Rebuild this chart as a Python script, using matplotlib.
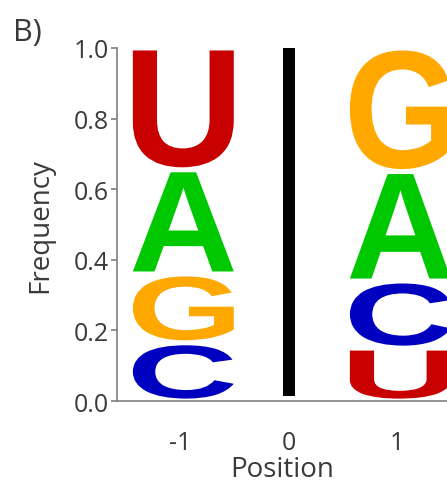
import matplotlib
matplotlib.use('Agg')
from matplotlib import pyplot as plt
from matplotlib.textpath import TextPath
from matplotlib.patches import PathPatch
from matplotlib.font_manager import FontProperties
from matplotlib.transforms import Affine2D

# our data
# ====
positions = [-1, 1]
# letters listed bottom to top for each position
letters = [['C', 'G', 'A', 'U'],
           ['U', 'C', 'A', 'G']]
freqs = [[0.165, 0.195, 0.295, 0.345],
         [0.150, 0.190, 0.310, 0.350]]
colors = {'A': '#00c800', 'C': '#0000c0', 'G': '#ffa800', 'U': '#c80000'}

xticks = [-1, 0, 1]
yticks = [0.0, 0.2, 0.4, 0.6, 0.8, 1.0]

plt.rcParams['font.family'] = ['Open Sans', 'DejaVu Sans']
glyph_font = FontProperties(family='Liberation Sans', weight='bold')
text_color = '#3a3a3a'
fs = 18


def draw_letter(ax, ch, x, y, w, h, color):
    tp = TextPath((0, 0), ch, size=1, prop=glyph_font)
    bb = tp.get_extents()
    tr = Affine2D().translate(-bb.x0, -bb.y0) \
        .scale(w / bb.width, h / bb.height) \
        .translate(x - w / 2, y)
    ax.add_patch(PathPatch(tr.transform_path(tp), facecolor=color,
                           edgecolor='none', transform=ax.transData))


fig = plt.figure(figsize=(4.47, 4.85), dpi=100)
ax = fig.add_axes([0.262, 0.171, 0.738, 0.728])

pad = 0.007
for pos, lets, fr in zip(positions, letters, freqs):
    bottom = 0.0
    for ch, f in zip(lets, fr):
        draw_letter(ax, ch, pos + 0.03, bottom + pad, 0.93, f - 2 * pad, colors[ch])
        bottom += f

# black marker at position 0
ax.bar(0, 0.985, bottom=0.015, width=0.11, color='black')

ax.set_xlim(-1.58, 1.46)
ax.set_ylim(0, 1.0)
ax.set_xticks(xticks)
ax.set_xticklabels([str(t) for t in xticks])
ax.set_yticks(yticks)
ax.set_yticklabels(['%.1f' % t for t in yticks])

for s in ['top', 'right']:
    ax.spines[s].set_visible(False)
for s in ['left', 'bottom']:
    ax.spines[s].set_color('#7f7f7f')
    ax.spines[s].set_linewidth(1.2)

ax.tick_params(axis='x', length=0, pad=21, labelsize=fs, labelcolor=text_color)
ax.tick_params(axis='y', length=4, width=1.2, color='#7f7f7f', pad=2,
               labelsize=fs, labelcolor=text_color)

ax.set_xlabel('Position', fontsize=20, color=text_color, labelpad=0)
ax.set_ylabel('Frequency', fontsize=20, color=text_color, labelpad=14)

fig.text(0.03, 0.962, 'B)', fontsize=22, color=text_color, va='top', ha='left')

plt.savefig('out.png', dpi=100)
